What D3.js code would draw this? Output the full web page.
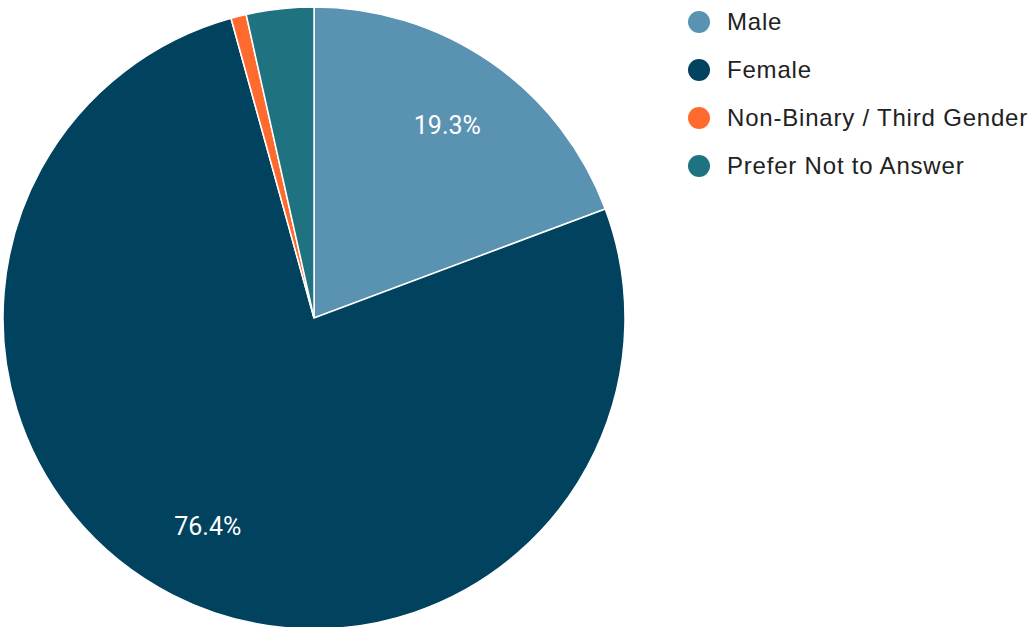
<!DOCTYPE html>
<html>
<head>
<meta charset="utf-8">
<script src="https://cdn.jsdelivr.net/npm/d3@7"></script>
<style>
  body { margin: 0; background: #fff; }
  svg { display: block; }
</style>
</head>
<body>
<div id="chart"></div>
<script>
var width = 1030;
var height = 627;

var categories = ['Male', 'Female', 'Non-Binary / Third Gender', 'Prefer Not to Answer'];
var values = [19.3, 76.4, 0.8, 3.5];
var colors = ['#5a93b1', '#01425f', '#ff6b2f', '#1f7381'];

var cx = 314, cy = 318, radius = 311;

var svg = d3.select('#chart')
  .append('svg')
  .attr('width', width)
  .attr('height', height);

var data = categories.map(function(c, i) {
  return { name: c, value: values[i], color: colors[i] };
});

var pie = d3.pie().sort(null).value(function(d) { return d.value; });
var arc = d3.arc().innerRadius(0).outerRadius(radius);
var labelArc = d3.arc().innerRadius(234).outerRadius(234);

var g = svg.append('g').attr('transform', 'translate(' + cx + ',' + cy + ')');

var arcs = pie(data);

g.selectAll('path')
  .data(arcs)
  .enter()
  .append('path')
  .attr('d', arc)
  .attr('fill', function(d) { return d.data.color; })
  .attr('stroke', '#fff')
  .attr('stroke-width', 1.5);

// only the big slices get a label
g.selectAll('text.pct')
  .data(arcs.filter(function(d) { return d.data.value > 5; }))
  .enter()
  .append('text')
  .attr('class', 'pct')
  .attr('transform', function(d) { return 'translate(' + labelArc.centroid(d) + ')'; })
  .attr('dy', '0.35em')
  .attr('text-anchor', 'middle')
  .style('font-family', 'Roboto, sans-serif')
  .style('font-size', '25px')
  .style('fill', '#fff')
  .text(function(d) { return d.data.value.toFixed(1) + '%'; });

// legend
var legend = svg.append('g').attr('transform', 'translate(699,22)');
var rows = legend.selectAll('g')
  .data(data)
  .enter()
  .append('g')
  .attr('transform', function(d, i) { return 'translate(0,' + (i * 48) + ')'; });

rows.append('circle')
  .attr('r', 11)
  .attr('fill', function(d) { return d.color; });

rows.append('text')
  .attr('x', 28)
  .attr('dy', '0.35em')
  .style('font-family', '"Liberation Sans", Arial, sans-serif')
  .style('font-size', '24px')
  .style('letter-spacing', '0.8px')
  .style('fill', '#222')
  .text(function(d) { return d.name; });
</script>
</body>
</html>
